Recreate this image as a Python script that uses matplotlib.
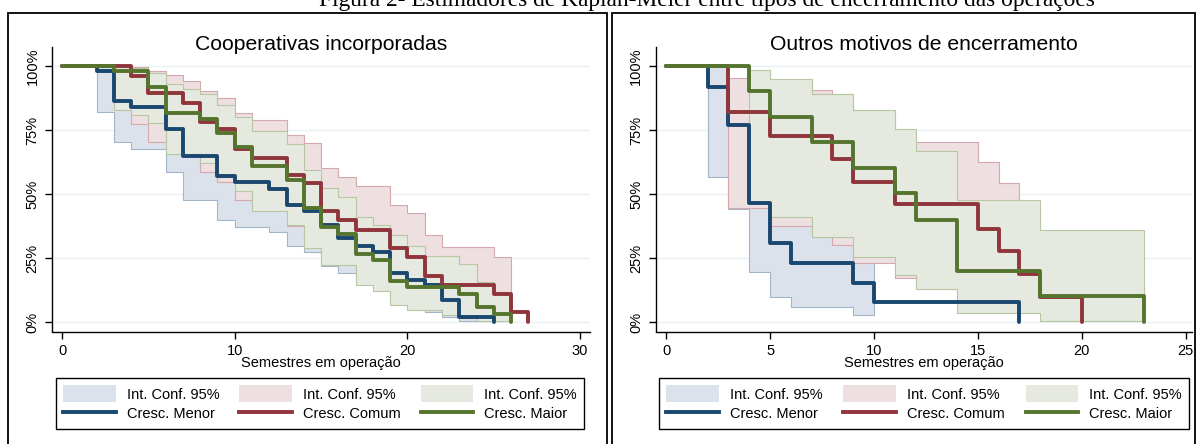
import matplotlib
matplotlib.use("Agg")
import matplotlib.pyplot as plt
from matplotlib.patches import Rectangle, Patch
from matplotlib.lines import Line2D

plt.rcParams['font.family'] = ['Liberation Sans', 'DejaVu Sans']

# ---- dados: cooperativas incorporadas ----
cm_t_menor = [0, 2, 3, 4, 6, 7, 9, 10, 12, 13, 14, 15, 16, 17, 18, 19, 20, 21, 22, 23, 25]
cm_s_menor = [100, 98, 86.4, 83.9, 75.4, 65, 57.2, 54.6, 52, 45.8, 43.4, 38, 33, 29.8, 27.5, 19, 16.6, 14.4, 8.6, 2, 0]
cm_t_comum = [0, 4, 5, 7, 8, 9, 10, 11, 13, 14, 15, 16, 17, 19, 20, 21, 22, 25, 26, 27]
cm_s_comum = [100, 96.2, 89.6, 85.7, 78.2, 75.2, 67.7, 64.2, 57.6, 54.1, 43.5, 39.7, 36, 28.8, 25.5, 18, 14.4, 10.9, 3.8, 0]
cm_t_maior = [0, 3, 5, 6, 8, 9, 10, 11, 13, 14, 15, 16, 17, 18, 19, 20, 23, 24, 25, 26]
cm_s_maior = [100, 98, 91.7, 81.5, 79.3, 74, 68.5, 60.8, 55.6, 44.6, 37, 34.3, 26.6, 24.1, 16, 13.6, 10.8, 5.7, 3.1, 0]

cm_ci_t_menor = [2, 3, 4, 6, 7, 9, 10, 12, 13, 14, 15, 16, 17, 18, 19, 20, 21, 22, 23, 25]
cm_ci_lo_menor = [82, 70.4, 67.4, 58.5, 47.5, 39.7, 37.1, 35, 29.6, 27.5, 22, 19, 16, 14, 8, 6, 4, 2, 0.3, 0.3]
cm_ci_hi_menor = [100, 95, 92, 85, 76, 68, 65, 63, 57, 55, 50, 45, 40, 36, 30, 28, 25, 17, 8, 8]
cm_ci_t_comum = [4, 5, 6, 7, 8, 9, 10, 11, 13, 14, 15, 16, 17, 19, 20, 21, 22, 25, 26]
cm_ci_lo_comum = [77.2, 70.4, 67, 65, 58.7, 54.8, 47.7, 44, 37.5, 32, 25, 23, 18, 14, 12, 6, 4, 0.5, 0.5]
cm_ci_hi_comum = [99.5, 98, 96.5, 94.1, 90.2, 87.4, 81.5, 78.9, 73, 70, 60, 56.6, 53.2, 45.8, 42.4, 33.8, 29.4, 25.5, 25.5]
cm_ci_t_maior = [3, 4, 5, 6, 7, 8, 9, 10, 11, 13, 14, 15, 16, 17, 18, 19, 20, 21, 22, 23, 24, 25, 26]
cm_ci_lo_maior = [82.8, 81, 77.6, 65.5, 65.5, 62, 56.5, 51.2, 43.5, 37.9, 29, 22.3, 22.3, 14.4, 12, 6.8, 4.7, 4.7, 2.7, 1.4, 0.5, 0.5, 0.5]
cm_ci_hi_maior = [100, 99.3, 97.1, 93, 91, 88.9, 84.8, 80.2, 74.6, 69.4, 59.4, 52.2, 48.9, 41.1, 37.9, 34, 29.5, 25.8, 25.8, 22.5, 15.7, 11.8, 11.8]

# ---- dados: outros motivos de encerramento ----
ot_t_menor = [0, 2, 3, 4, 5, 6, 9, 10, 17]
ot_s_menor = [100, 91.9, 77, 46.6, 31, 23.1, 15.4, 7.9, 0]
ot_t_comum = [0, 3, 5, 8, 9, 11, 15, 16, 17, 18, 20]
ot_s_comum = [100, 82.1, 72.8, 63.8, 54.8, 46, 36.5, 27.8, 18.7, 9.6, 0]
ot_t_maior = [0, 4, 5, 7, 9, 11, 12, 14, 18, 23]
ot_s_maior = [100, 90.2, 80.2, 70.2, 60, 50.3, 40, 20.1, 10.2, 0]

ot_ci_t_menor = [2, 3, 4, 5, 6, 9, 10]
ot_ci_lo_menor = [56.8, 44, 19.7, 9.9, 6, 2.7, 2.7]
ot_ci_hi_menor = [100, 95, 85, 70, 55, 45, 45]
ot_ci_t_comum = [3, 4, 5, 7, 8, 9, 11, 12, 15, 16, 17, 18]
ot_ci_lo_comum = [44.6, 44.6, 37.5, 34, 30, 23, 17, 13, 6, 5, 4, 4]
ot_ci_hi_comum = [95.4, 98, 93, 90.6, 88, 80, 72, 70.4, 62.6, 54.4, 45, 45]
ot_ci_t_maior = [4, 5, 7, 9, 11, 12, 14, 18, 23]
ot_ci_lo_maior = [46, 41, 33.1, 25.3, 18.4, 12.8, 3.4, 0.5, 0.5]
ot_ci_hi_maior = [98.4, 95, 89, 82.8, 75.4, 66.9, 47.6, 35.9, 35.9]

grupos = ["Cresc. Menor", "Cresc. Comum", "Cresc. Maior"]
cores = ["#1a476f", "#90353b", "#55752f"]
cores_ci = ["#dce2eb", "#eedfe1", "#e5e9df"]
bordas_ci = ["#a3b5c9", "#d5a8ad", "#b8c7a3"]
y_ticks = [0, 25, 50, 75, 100]
y_labels = ["0%", "25%", "50%", "75%", "100%"]

W, H = 1198, 444
fig = plt.figure(figsize=(W / 100, H / 100), dpi=100)


def fx(px):
    return px / W


def fy(py):
    return 1 - py / H


def painel(ax, curvas, bandas, xlim, xticks, titulo, legx0, legx1):
    for i, (t, lo, hi) in enumerate(bandas):
        ax.fill_between(t, lo, hi, step='post', facecolor=cores_ci[i],
                        edgecolor=bordas_ci[i], linewidth=0.8, zorder=1 + i)
    for i, (t, s) in enumerate(curvas):
        ax.step(t, s, where='post', color=cores[i], lw=2.8, zorder=5 + i,
                solid_capstyle='round')
    ax.set_xlim(*xlim)
    ax.set_ylim(-3.7, 107.4)
    ax.set_xticks(xticks)
    ax.set_yticks(y_ticks)
    ax.set_yticklabels(y_labels, rotation=90, va='center')
    for y in y_ticks:
        ax.axhline(y, color='#eaf2f3', lw=1, zorder=0)
    for s in ['top', 'right']:
        ax.spines[s].set_visible(False)
    for s in ['left', 'bottom']:
        ax.spines[s].set_linewidth(1)
    ax.tick_params(length=5, width=1, labelsize=10.5, pad=4)
    pos = ax.get_position()
    cx = pos.x0 + pos.width / 2
    fig.text(cx, fy(44), titulo, ha='center', va='center', fontsize=15.2)
    fig.text(cx, fy(363), "Semestres em operação", ha='center', va='center', fontsize=10.5)
    handles = []
    for i in range(3):
        handles.append(Patch(facecolor=cores_ci[i], edgecolor='none'))
        handles.append(Line2D([], [], color=cores[i], lw=2.8))
    labels = []
    for g in grupos:
        labels += ["Int. Conf. 95%", g]
    ax.legend(handles, labels, ncol=3, loc='upper left', mode='expand',
              bbox_to_anchor=(fx(legx0), fy(378), fx(legx1) - fx(legx0), 0),
              bbox_transform=fig.transFigure, frameon=True, fancybox=False,
              edgecolor='black', framealpha=1, fontsize=10.5, handlelength=3.6,
              handleheight=1.4, handletextpad=0.75, labelspacing=0.2,
              borderpad=0.5, borderaxespad=0, columnspacing=1.0)


axL = fig.add_axes([fx(52), fy(331.5), (590 - 52) / W, 284.5 / H])
axR = fig.add_axes([fx(655.7), fy(331.5), (1192 - 655.7) / W, 284.5 / H])

painel(axL,
       [(cm_t_menor, cm_s_menor), (cm_t_comum, cm_s_comum), (cm_t_maior, cm_s_maior)],
       [(cm_ci_t_menor, cm_ci_lo_menor, cm_ci_hi_menor),
        (cm_ci_t_comum, cm_ci_lo_comum, cm_ci_hi_comum),
        (cm_ci_t_maior, cm_ci_lo_maior, cm_ci_hi_maior)],
       (-0.58, 30.57), [0, 10, 20, 30], "Cooperativas incorporadas", 56, 584)

painel(axR,
       [(ot_t_menor, ot_s_menor), (ot_t_comum, ot_s_comum), (ot_t_maior, ot_s_maior)],
       [(ot_ci_t_menor, ot_ci_lo_menor, ot_ci_hi_menor),
        (ot_ci_t_comum, ot_ci_lo_comum, ot_ci_hi_comum),
        (ot_ci_t_maior, ot_ci_lo_maior, ot_ci_hi_maior)],
       (-0.5, 25.3), [0, 5, 10, 15, 20, 25], "Outros motivos de encerramento", 659, 1189)

# molduras dos paineis
fig.add_artist(Rectangle((fx(7.5), fy(470)), (606.5 - 7.5) / W, (470 - 13) / H,
                         transform=fig.transFigure, fill=False, lw=1.3, ec='black'))
fig.add_artist(Rectangle((fx(611.5), fy(470)), (1195 - 611.5) / W, (470 - 13) / H,
                         transform=fig.transFigure, fill=False, lw=1.3, ec='black'))

fig.text(fx(707), fy(6), "Figura 2- Estimadores de Kaplan-Meier entre tipos de encerramento das operações",
         ha='center', va='baseline', fontsize=16.8, family=['Liberation Serif', 'DejaVu Serif'])

fig.savefig("out.png", dpi=100)
